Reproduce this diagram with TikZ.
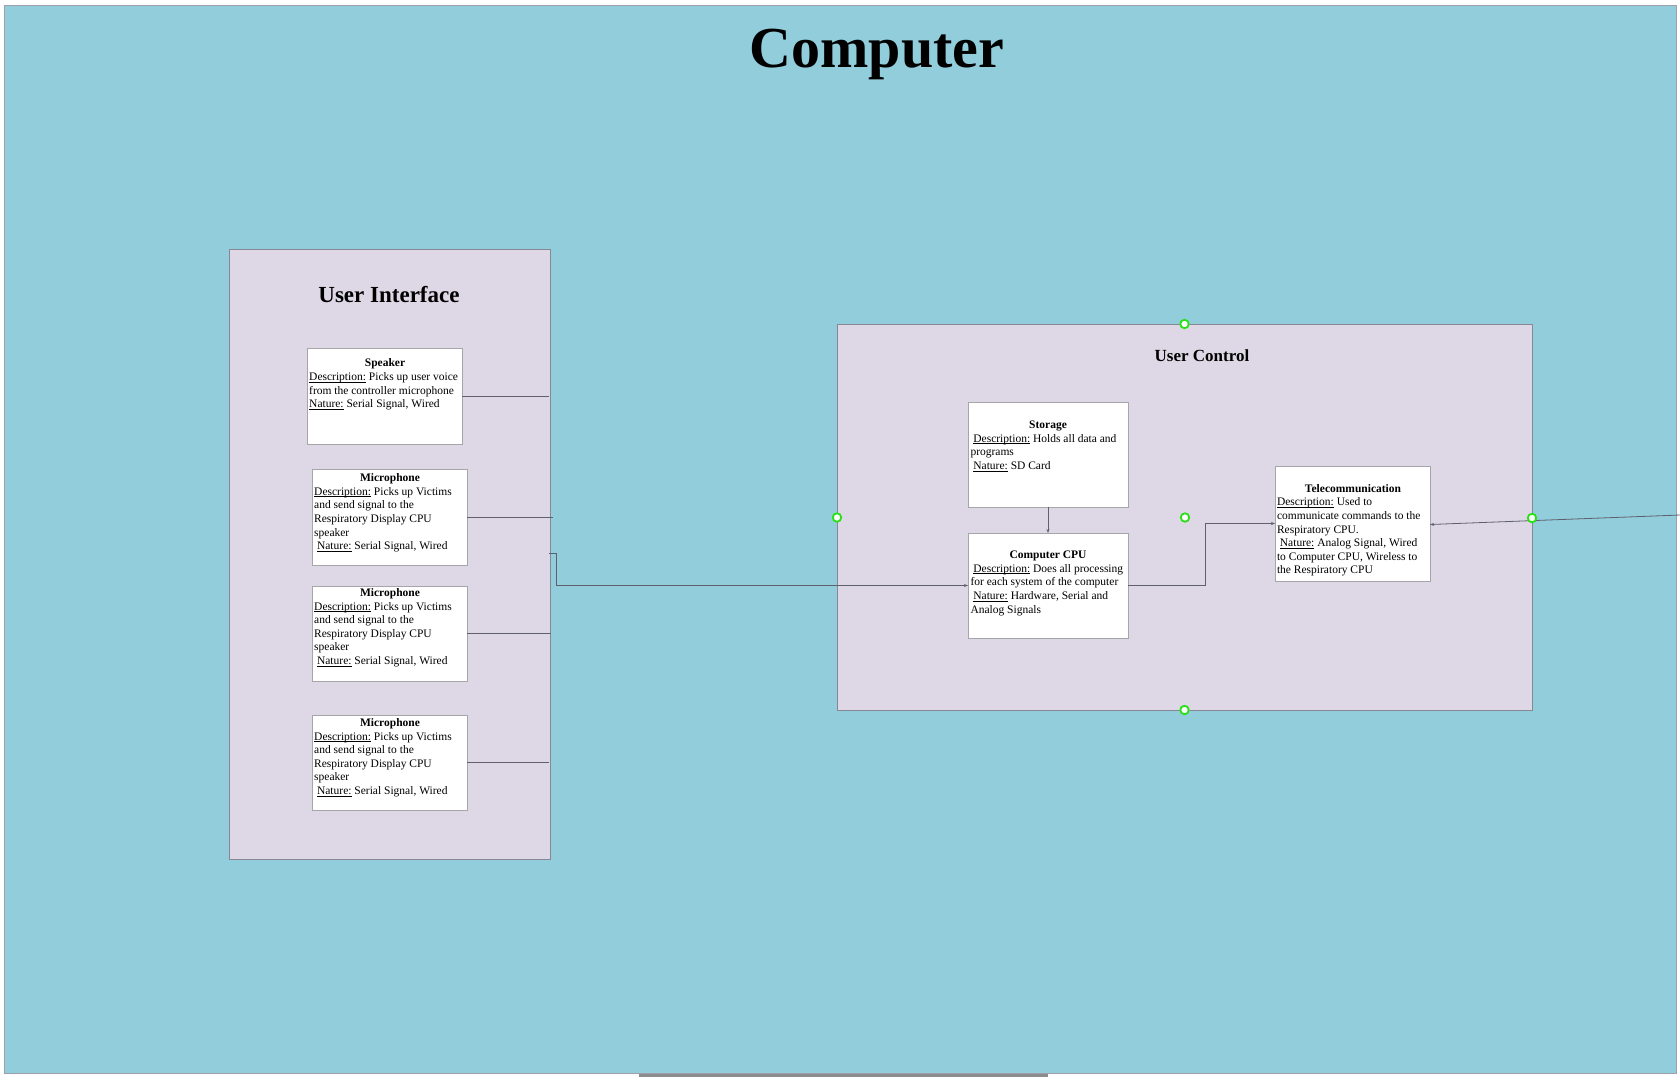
\documentclass[tikz,border=0pt]{standalone}
\usepackage{fontspec}
\setmainfont{Liberation Serif}
\usetikzlibrary{arrows.meta}
\definecolor{bgblue}{RGB}{146,205,220}
\definecolor{lav}{RGB}{222,216,230}
\definecolor{edgegray}{RGB}{135,135,150}
\definecolor{boxgray}{RGB}{165,165,170}
\definecolor{wiregray}{RGB}{95,95,110}
\definecolor{handle}{RGB}{40,225,20}
\newcommand\uln[1]{\leavevmode\setbox0\hbox{#1}\rlap{\rule[-1.7pt]{\wd0}{0.6pt}}\box0\relax}
\newcommand\txtlines[1]{\vtop{\baselineskip=13.6pt\lineskiplimit=-10pt #1}}
\tikzset{
  x=1pt, y=-1pt,
  panel/.style={draw=edgegray, line width=1pt, fill=lav, inner sep=0, outer sep=0, anchor=north west},
  itembox/.style={draw=boxgray, line width=1pt, fill=white, inner sep=0, outer sep=0, anchor=north west},
  itemtitle/.style={inner sep=0, anchor=base, font=\fontsize{11.5}{13.6}\selectfont\bfseries},
  itemtext/.style={inner sep=0, anchor=base west, font=\fontsize{11.5}{13.6}\selectfont},
  wire/.style={draw=wiregray, line width=0.8pt},
  tip/.style={-{Stealth[length=4pt,width=3pt]}},
  handlept/.style={circle, draw=handle, fill=white, line width=1.8pt, minimum size=8.5pt, inner sep=0},
}
\begin{document}
\begin{tikzpicture}
\useasboundingbox (0,0) rectangle (1680,1077);
\fill[white] (0,0) rectangle (1680,1077);
% outer
\node[draw=edgegray!80, line width=1pt, fill=bgblue, inner sep=0, outer sep=0, anchor=north west,
  minimum width=1672pt, minimum height=1068pt] (outer) at (4,5) {};
\node[inner sep=0, anchor=base, font=\fontsize{58}{60}\selectfont\bfseries] (title) at (877,67) {Computer};
\fill[gray!90] (639,1074) rectangle (1048,1077);
% User Interface panel
\node[panel, minimum width=321pt, minimum height=610pt] (ui) at (229,249) {};
\node[inner sep=0, anchor=base, font=\fontsize{23}{26}\selectfont\bfseries] (uititle) at (389,302) {User Interface};
% Speaker
\node[itembox, minimum width=155pt, minimum height=96pt] (spk) at (307,348) {};
\node[itemtitle] (spkt) at (385,366.7) {Speaker};
\node[itemtext] (spkx) at (309,380.7) {\txtlines{%
  \hbox{\uln{Description:} Picks up user voice}
  \hbox{from the controller microphone}
  \hbox{\uln{Nature:} Serial Signal, Wired}}};
% Microphone 1
\node[itembox, minimum width=155pt, minimum height=96pt] (mic1) at (312,469) {};
\node[itemtitle] (mic1t) at (390,481.7) {Microphone};
\node[itemtext] (mic1x) at (314,495.3) {\txtlines{%
  \hbox{\uln{Description:} Picks up Victims}
  \hbox{and send signal to the}
  \hbox{Respiratory Display CPU}
  \hbox{speaker}
  \hbox{\ \uln{Nature:} Serial Signal, Wired}}};
% Microphone 2
\node[itembox, minimum width=155pt, minimum height=95pt] (mic2) at (312,586) {};
\node[itemtitle] (mic2t) at (390,596.7) {Microphone};
\node[itemtext] (mic2x) at (314,610) {\txtlines{%
  \hbox{\uln{Description:} Picks up Victims}
  \hbox{and send signal to the}
  \hbox{Respiratory Display CPU}
  \hbox{speaker}
  \hbox{\ \uln{Nature:} Serial Signal, Wired}}};
% Microphone 3
\node[itembox, minimum width=155pt, minimum height=95pt] (mic3) at (312,715) {};
\node[itemtitle] (mic3t) at (390,726.7) {Microphone};
\node[itemtext] (mic3x) at (314,740) {\txtlines{%
  \hbox{\uln{Description:} Picks up Victims}
  \hbox{and send signal to the}
  \hbox{Respiratory Display CPU}
  \hbox{speaker}
  \hbox{\ \uln{Nature:} Serial Signal, Wired}}};
% User Control panel
\node[panel, minimum width=695pt, minimum height=386pt] (uc) at (837,324) {};
\node[inner sep=0, anchor=base, font=\fontsize{17}{20}\selectfont\bfseries] (uctitle) at (1202,361.7) {User Control};
% Storage
\node[itembox, minimum width=160pt, minimum height=105pt] (sto) at (968,402) {};
\node[itemtitle] (stot) at (1048,428.3) {Storage};
\node[itemtext] (stox) at (970.3,442.3) {\txtlines{%
  \hbox{\ \uln{Description:} Holds all data and}
  \hbox{programs}
  \hbox{\ \uln{Nature:} SD Card}}};
% CPU
\node[itembox, minimum width=160pt, minimum height=105pt] (cpu) at (968,533) {};
\node[itemtitle] (cput) at (1048,558.3) {Computer CPU};
\node[itemtext] (cpux) at (970.3,572.3) {\txtlines{%
  \hbox{\ \uln{Description:} Does all processing}
  \hbox{for each system of the computer}
  \hbox{\ \uln{Nature:} Hardware, Serial and}
  \hbox{Analog Signals}}};
% Telecommunication
\node[itembox, minimum width=155pt, minimum height=115pt] (tel) at (1275,466) {};
\node[itemtitle] (telt) at (1353,492.4) {Telecommunication};
\node[itemtext] (telx) at (1276.8,505.9) {\txtlines{%
  \hbox{\uln{Description:} Used to}
  \hbox{communicate commands to the}
  \hbox{Respiratory CPU.}
  \hbox{\ \uln{Nature:} Analog Signal, Wired}
  \hbox{to Computer CPU, Wireless to}
  \hbox{the Respiratory CPU}}};
% connector end points
\coordinate (spkend) at (549,396);
\coordinate (mic1end) at (553,517);
\coordinate (mic2end) at (551,633.5);
\coordinate (mic3end) at (549,762.5);
\coordinate (uiout) at (549,553);
\coordinate (uibend) at (556,553);
\coordinate (cpubend) at (1205,585.5);
\coordinate (ext) at (1680,515);
% connectors
\draw[wire] (spk.east |- spkend) -- (spkend);
\draw[wire] (mic1.east |- mic1end) -- (mic1end);
\draw[wire] (mic2.east |- mic2end) -- (mic2end);
\draw[wire] (mic3.east |- mic3end) -- (mic3end);
\draw[wire, tip] (uiout) -- (uibend) |- (cpu.west);
\draw[wire, tip] (sto.south) -- (cpu.north);
\draw[wire, tip] (cpu.east) -- (cpubend) |- (tel.west);
\draw[wire, -{Stealth[open,length=4pt,width=3pt]}] (ext) -- ([yshift=-1pt]tel.east);
% selection handles
\node[handlept] (h1) at (1184.5,324) {};
\node[handlept] (h2) at (1184.5,710) {};
\node[handlept] (h3) at (837,517.5) {};
\node[handlept] (h4) at (1185,517.5) {};
\node[handlept] (h5) at (1532,518) {};
\end{tikzpicture}
\end{document}
